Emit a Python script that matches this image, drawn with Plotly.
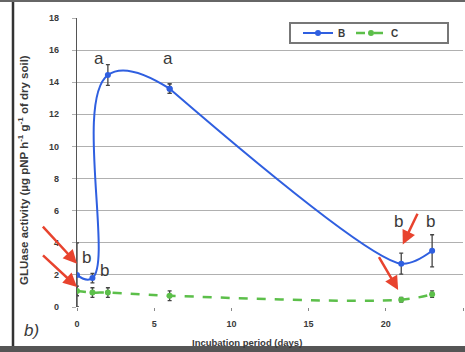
import plotly.graph_objects as go

days = [0, 1, 2, 6, 21, 23]
b_vals = [2.0, 1.8, 14.45, 13.6, 2.7, 3.5]
b_err = [2.0, 0.3, 0.65, 0.3, 0.65, 1.0]
c_vals = [1.0, 0.9, 0.9, 0.7, 0.45, 0.8]
c_err = [0.3, 0.3, 0.3, 0.3, 0.15, 0.2]

x_ticks = [0, 5, 10, 15, 20, 25]
y_ticks = [0, 2, 4, 6, 8, 10, 12, 14, 16, 18]

# letter annotations (x, y, text)
letters = [(1.4, 15.5, "a"), (5.9, 15.5, "a"), (0.6, 3.1, "b"), (1.8, 2.3, "b"),
           (20.8, 5.3, "b"), (22.9, 5.3, "b")]
# red arrows: head (x, y), tail (x, y)
arrows = [((0.0, 2.7), (-2.3, 5.1)), ((0.0, 1.25), (-2.3, 3.3)),
          ((21.1, 3.9), (22.1, 5.9)), ((20.8, 1.06), (19.5, 3.2))]

BLUE = "#2f5fe0"
GREEN = "#5cbf4a"
TXT = "#3a3a3a"
FONT = "Liberation Sans"

fig = go.Figure()
# blue series drawn in two smoothed pieces (sharing the day-6 point)
fig.add_trace(go.Scatter(
    x=days[:4], y=b_vals[:4], name="B", mode="lines+markers", legendgroup="B",
    line=dict(color=BLUE, width=2, shape="spline", smoothing=1.3),
    marker=dict(color=BLUE, size=6, symbol="circle"),
    error_y=dict(type="data", array=b_err[:4], color="#444", thickness=1.3, width=2),
))
fig.add_trace(go.Scatter(
    x=days[3:], y=b_vals[3:], name="B", mode="lines+markers", legendgroup="B",
    showlegend=False,
    line=dict(color=BLUE, width=2, shape="spline", smoothing=0.8),
    marker=dict(color=BLUE, size=6, symbol="circle"),
    error_y=dict(type="data", array=b_err[3:], color="#444", thickness=1.3, width=2),
))
fig.add_trace(go.Scatter(
    x=days, y=c_vals, name="C", mode="lines+markers",
    line=dict(color=GREEN, width=2.5, dash="dash", shape="spline", smoothing=1.0),
    marker=dict(color=GREEN, size=6, symbol="circle"),
    error_y=dict(type="data", array=c_err, color="#444", thickness=1.3, width=2),
))

anns = []
for x, y, t in letters:
    anns.append(dict(x=x, y=y, xref="x", yref="y", text=t, showarrow=False,
                     font=dict(family=FONT, size=17, color=TXT)))
for (hx, hy), (tx, ty) in arrows:
    anns.append(dict(x=hx, y=hy, xref="x", yref="y", ax=tx, ay=ty, axref="x", ayref="y",
                     text="", showarrow=True, arrowhead=2, arrowsize=1.1, arrowwidth=2.5,
                     arrowcolor="#e8432e", standoff=0))
anns.append(dict(x=-46 / 386, y=-23 / 289, xref="paper", yref="paper", text="<i>b)</i>",
                 xanchor="center", yanchor="middle",
                 showarrow=False, font=dict(family=FONT, size=17, color=TXT)))
anns.append(dict(x=(247 - 77) / 386, y=-35 / 289, xref="paper", yref="paper",
                 text="Incubation period (days)", showarrow=False,
                 xanchor="center", yanchor="middle",
                 font=dict(family=FONT, size=9.5, color=TXT, weight="bold")))
anns.append(dict(x=-54 / 386, y=(307 - 170) / 289, xref="paper", yref="paper",
                 text="GLUase activity (µg pNP h<sup>-1</sup> g<sup>-1</sup> of dry soil)",
                 textangle=-90, showarrow=False, xanchor="center", yanchor="middle",
                 font=dict(family=FONT, size=11.5, color=TXT, weight="bold")))
fig.update_layout(annotations=anns)

shapes = [
    # legend box
    dict(type="rect", xref="paper", yref="paper", x0=(290 - 77) / 386, x1=(448 - 77) / 386,
         y0=(307 - 43) / 289, y1=(307 - 23) / 289, line=dict(color="#777", width=2),
         fillcolor="rgba(0,0,0,0)"),
    # outer frame lines
    dict(type="line", xref="paper", yref="paper", x0=-64 / 386, x1=-64 / 386,
         y0=-50 / 289, y1=1.1, line=dict(color="#333", width=2.5)),
    dict(type="rect", xref="paper", yref="paper", x0=-0.25, x1=1.05,
         y0=-45 / 289, y1=-39 / 289, line=dict(width=0), fillcolor="#555"),
    dict(type="line", xref="paper", yref="paper", x0=-0.25, x1=1.05,
         y0=(307 - 1) / 289, y1=(307 - 1) / 289, line=dict(color="#666", width=2)),
]
fig.update_layout(shapes=shapes)

fig.update_layout(
    width=465, height=352,
    margin=dict(l=77, r=2, t=18, b=45, autoexpand=False),
    paper_bgcolor="white", plot_bgcolor="white",
    showlegend=True,
    legend=dict(orientation="h", x=(298 - 77) / 386, y=(307 - 33) / 289,
                xanchor="left", yanchor="middle", bgcolor="rgba(0,0,0,0)",
                font=dict(family=FONT, size=10, color=TXT, weight="bold"),
                entrywidth=8, itemwidth=30),
    font=dict(family=FONT, color=TXT),
)
fig.update_xaxes(range=[0, 25], tickvals=x_ticks, showgrid=False, zeroline=False,
                 automargin=False,
                 ticks="outside", ticklen=3, tickcolor="#888", showline=False,
                 tickfont=dict(family=FONT, size=9, color=TXT, weight="bold"),
                 ticklabelstandoff=5)
fig.update_yaxes(range=[0, 18], tickvals=y_ticks, showgrid=True, gridcolor="#b0b0b0",
                 gridwidth=1.3, zeroline=False, showline=True, linecolor="#555", linewidth=1.3,
                 automargin=False,
                 ticks="outside", ticklen=4, tickcolor="#b0b0b0",
                 tickfont=dict(family=FONT, size=9, color=TXT, weight="bold"),
                 ticklabelstandoff=11)

fig.write_html("out.html", config={"displayModeBar": False},
               post_script="document.body.style.margin='0px';"
                           "document.body.style.overflow='hidden';")
